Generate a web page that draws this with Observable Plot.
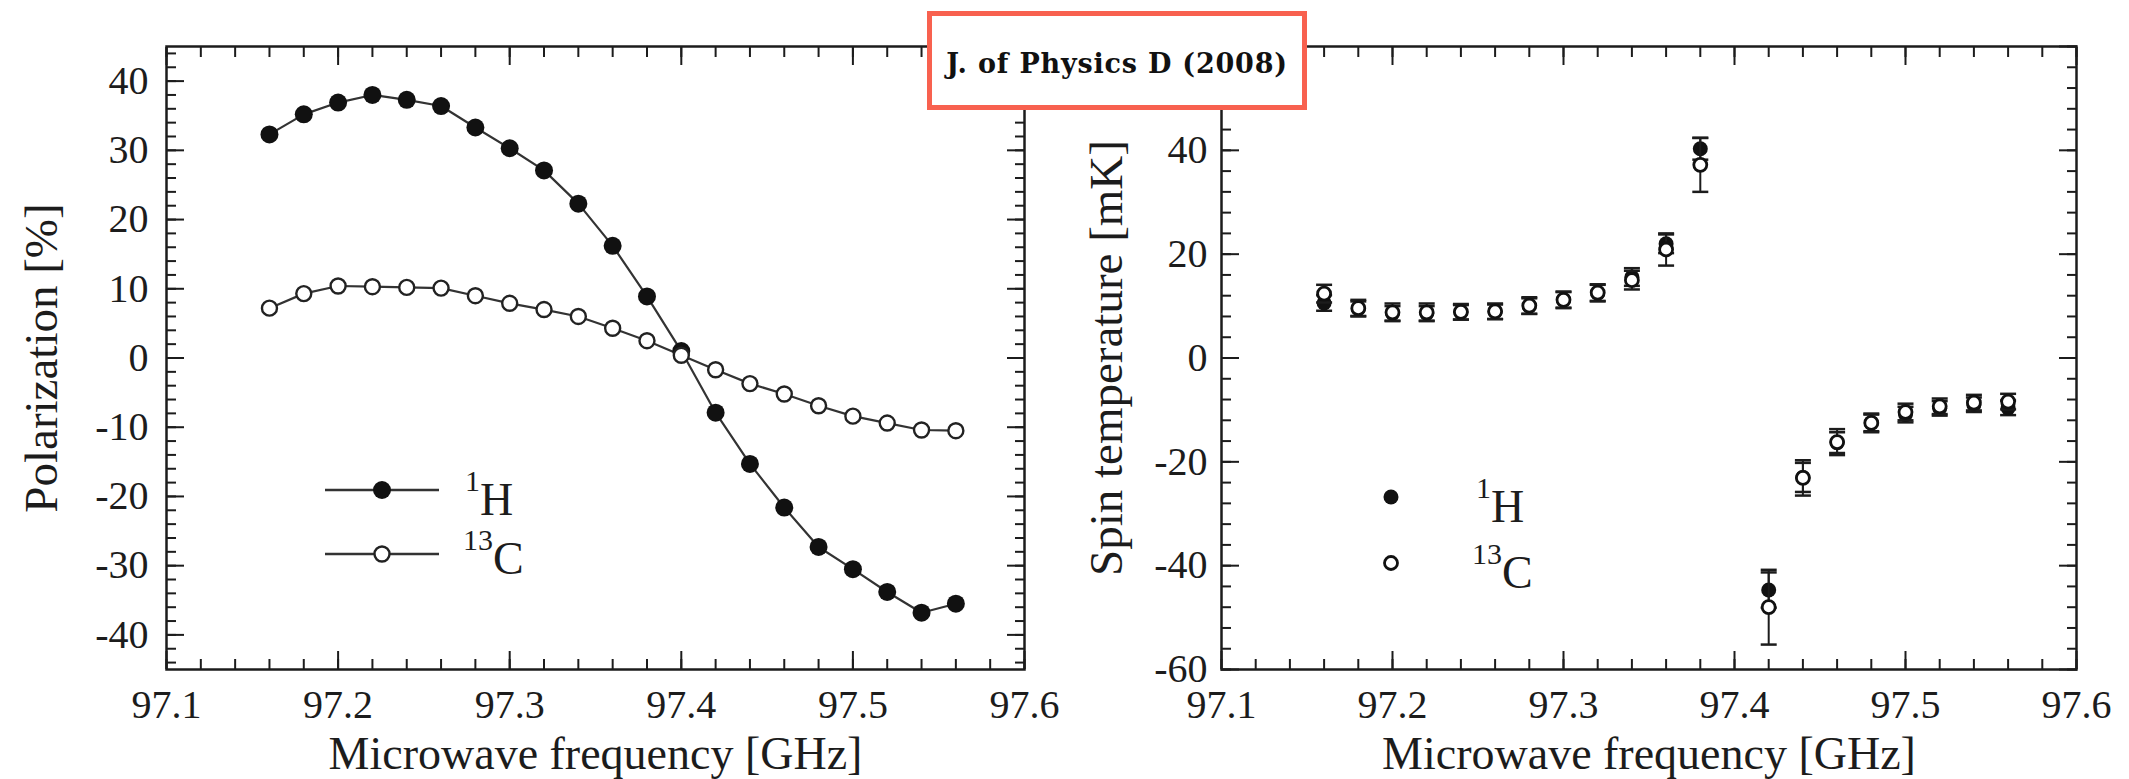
<!DOCTYPE html>
<html><head><meta charset="utf-8">
<script src="https://cdn.jsdelivr.net/npm/d3@7"></script>
<script src="https://cdn.jsdelivr.net/npm/@observablehq/plot@0.6"></script>
<style>
body{margin:0;background:#fff;}
#wrap{position:relative;width:2129px;height:779px;overflow:hidden;background:#fff;}
#left{position:absolute;left:0;top:0;}
#right{position:absolute;left:1065px;top:0;}
#title{position:absolute;left:927px;top:11px;width:380px;height:99px;box-sizing:border-box;border:5px solid #f8614f;background:#fff;font:bold 27px "DejaVu Serif";letter-spacing:0.8px;color:#111;display:flex;align-items:center;justify-content:center;padding-top:6px;z-index:5;}
</style></head>
<body>
<div id="wrap"><div id="left"></div><div id="right"></div><div id="title">J. of Physics D (2008)</div></div>
<script>
// ---------- data ----------
const freqP = [97.16, 97.18, 97.20, 97.22, 97.24, 97.26, 97.28, 97.30, 97.32, 97.34, 97.36, 97.38, 97.40, 97.42, 97.44, 97.46, 97.48, 97.50, 97.52, 97.54, 97.56];
const polH  = [32.3, 35.2, 36.9, 38.0, 37.3, 36.4, 33.3, 30.3, 27.1, 22.3, 16.2, 8.9, 1.0, -7.9, -15.3, -21.6, -27.3, -30.5, -33.8, -36.8, -35.5];
const polC  = [7.2, 9.3, 10.4, 10.3, 10.2, 10.1, 9.0, 7.9, 7.0, 6.0, 4.3, 2.5, 0.4, -1.7, -3.7, -5.2, -6.9, -8.4, -9.4, -10.4, -10.5];

const freqT = [97.16, 97.18, 97.20, 97.22, 97.24, 97.26, 97.28, 97.30, 97.32, 97.34, 97.36, 97.38, 97.42, 97.44, 97.46, 97.48, 97.50, 97.52, 97.54, 97.56];
const tempH = [10.6, 9.5, 8.6, 8.6, 8.8, 8.9, 10.0, 11.2, 12.5, 15.6, 22.0, 40.3, -44.7, -23.0, -16.3, -12.5, -10.9, -9.7, -9.0, -9.6];
const errH  = [1.5, 1.4, 1.4, 1.4, 1.4, 1.4, 1.5, 1.5, 1.6, 1.7, 1.8, 2.1, 3.4, 2.8, 2.0, 1.6, 1.5, 1.4, 1.4, 1.4];
const tempC = [12.4, 9.6, 8.8, 8.8, 8.9, 9.0, 10.1, 11.2, 12.6, 15.0, 20.9, 37.2, -48.0, -23.1, -16.2, -12.5, -10.4, -9.3, -8.6, -8.4];
const errC  = [1.7, 1.6, 1.7, 1.7, 1.5, 1.5, 1.6, 1.6, 1.6, 1.8, 3.1, 5.2, 7.2, 3.4, 2.5, 1.8, 1.6, 1.5, 1.5, 1.5];

const xMajor = [97.1, 97.2, 97.3, 97.4, 97.5, 97.6];
const xMinor = d3.range(0, 26).map(i => 97.1 + i * 0.02);
const yMajorP = [-40, -30, -20, -10, 0, 10, 20, 30, 40];
const yLabelsP = [-40, -30, -20, -10, 0, 10, 20, 30, 40];
const yMinorP = d3.range(-44, 46, 2);
const yMajorT = [-60, -40, -20, 0, 20, 40, 60];
const yLabelsT = [-60, -40, -20, 0, 20, 40];   // the 60 label is hidden under the title box
const yMinorT = d3.range(-60, 61, 4);

const xTitle = "Microwave frequency [GHz]";
const yTitleP = "Polarization [%]";
const yTitleT = "Spin temperature [mK]";

// ---------- helpers ----------
const ink = "#1c1c1c";
const fontFam = "Liberation Serif, Times New Roman, serif";
const fmtX = d3.format(".1f");
const fmtY = d => String(d);

function boxAxes(yMaj, yLab, yMin, yPad) {
  const t = {stroke: ink, strokeWidth: 2, fill: "none", label: null};
  return [
    Plot.axisX(xMinor, {anchor: "bottom", tickSize: -10, ...t}),
    Plot.axisX(xMajor, {anchor: "bottom", tickSize: -18, ...t}),
    Plot.axisX(xMinor, {anchor: "top", tickSize: -10, ...t}),
    Plot.axisX(xMajor, {anchor: "top", tickSize: -18, ...t}),
    Plot.axisY(yMin, {anchor: "left", tickSize: -10, ...t}),
    Plot.axisY(yMaj, {anchor: "left", tickSize: -18, ...t}),
    Plot.axisY(yMin, {anchor: "right", tickSize: -10, ...t}),
    Plot.axisY(yMaj, {anchor: "right", tickSize: -18, ...t}),
    Plot.axisX(xMajor, {anchor: "bottom", tickSize: 0, tickPadding: 20, tickFormat: fmtX, fill: ink, fontSize: 40, label: null}),
    Plot.axisY(yLab, {anchor: "left", tickSize: 0, tickPadding: yPad, tickFormat: fmtY, fill: ink, fontSize: 40, label: null}),
    Plot.frame({stroke: ink, strokeWidth: 2.5})
  ];
}

const capSymbol = {draw(ctx, size) { const w = Math.sqrt(size / Math.PI); ctx.moveTo(-w, 0); ctx.lineTo(w, 0); }};

// ---------- left panel ----------
const rowsP = freqP.map((f, i) => ({f, h: polH[i], c: polC[i]}));
const left = Plot.plot({
  width: 1065, height: 779,
  marginLeft: 166, marginRight: 41, marginTop: 46, marginBottom: 110,
  x: {domain: [97.1, 97.6]},
  y: {domain: [-45, 45]},
  style: {fontFamily: fontFam, background: "transparent", color: ink},
  marks: [
    ...boxAxes(yMajorP, yLabelsP, yMinorP, 18),
    Plot.line(rowsP, {x: "f", y: "h", stroke: "#333", strokeWidth: 2.2}),
    Plot.line(rowsP, {x: "f", y: "c", stroke: "#333", strokeWidth: 2.2}),
    Plot.dot(rowsP, {x: "f", y: "h", r: 9, fill: "#111", stroke: "none"}),
    Plot.dot(rowsP, {x: "f", y: "c", r: 7.5, fill: "#fff", stroke: "#222", strokeWidth: 2.4}),
    Plot.text([xTitle], {frameAnchor: "bottom", dy: 99, lineAnchor: "bottom", fontSize: 46, fill: ink}),
    Plot.text([yTitleP], {frameAnchor: "left", dx: -125, rotate: -90, textAnchor: "middle", lineAnchor: "middle", fontSize: 47, fill: ink})
  ]
});
document.getElementById("left").appendChild(left);

// ---------- right panel ----------
const rowsT = freqT.map((f, i) => ({f, h: tempH[i], eh: errH[i], c: tempC[i], ec: errC[i]}));
const right = Plot.plot({
  width: 1064, height: 779,
  marginLeft: 156, marginRight: 53, marginTop: 46, marginBottom: 110,
  x: {domain: [97.1, 97.6]},
  y: {domain: [-60, 60]},
  style: {fontFamily: fontFam, background: "transparent", color: ink},
  marks: [
    ...boxAxes(yMajorT, yLabelsT, yMinorT, 14),
    Plot.ruleX(rowsT, {x: "f", y1: d => d.h - d.eh, y2: d => d.h + d.eh, stroke: ink, strokeWidth: 2}),
    Plot.dot(rowsT, {x: "f", y: d => d.h + d.eh, symbol: capSymbol, r: 8, stroke: ink, strokeWidth: 2.5, fill: "none"}),
    Plot.dot(rowsT, {x: "f", y: d => d.h - d.eh, symbol: capSymbol, r: 8, stroke: ink, strokeWidth: 2.5, fill: "none"}),
    Plot.dot(rowsT, {x: "f", y: "h", r: 7.5, fill: "#111", stroke: "none"}),
    Plot.ruleX(rowsT, {x: "f", y1: d => d.c - d.ec, y2: d => d.c + d.ec, stroke: ink, strokeWidth: 2}),
    Plot.dot(rowsT, {x: "f", y: d => d.c + d.ec, symbol: capSymbol, r: 8, stroke: ink, strokeWidth: 2.5, fill: "none"}),
    Plot.dot(rowsT, {x: "f", y: d => d.c - d.ec, symbol: capSymbol, r: 8, stroke: ink, strokeWidth: 2.5, fill: "none"}),
    Plot.dot(rowsT, {x: "f", y: "c", r: 6.5, fill: "#fff", stroke: "#111", strokeWidth: 2.8}),
    Plot.text([xTitle], {frameAnchor: "bottom", dy: 99, lineAnchor: "bottom", fontSize: 46, fill: ink}),
    Plot.text([yTitleT], {frameAnchor: "left", dx: -115, rotate: -90, textAnchor: "middle", lineAnchor: "middle", fontSize: 47, fill: ink})
  ]
});
document.getElementById("right").appendChild(right);

// ---------- legends (overlay) ----------
const ov = d3.select("#wrap").append("svg")
  .attr("width", 2129).attr("height", 779)
  .style("position", "absolute").style("left", 0).style("top", 0)
  .style("pointer-events", "none");

function legLabel(x, y, sup, main) {
  const t = ov.append("text").attr("x", x).attr("y", y)
    .attr("font-family", fontFam).attr("font-size", 46).attr("fill", ink);
  t.append("tspan").attr("font-size", 30).attr("dy", -24).text(sup);
  t.append("tspan").attr("dy", 24).text(main);
}
// left legend
[[490, true], [554, false]].forEach(([y, filled]) => {
  ov.append("line").attr("x1", 325).attr("x2", 439).attr("y1", y).attr("y2", y).attr("stroke", "#333").attr("stroke-width", 2.4);
  ov.append("circle").attr("cx", 382).attr("cy", y).attr("r", filled ? 9 : 7.5)
    .attr("fill", filled ? "#111" : "#fff").attr("stroke", filled ? "none" : "#222").attr("stroke-width", 2.4);
});
legLabel(465, 515, "1", "H");
legLabel(463, 574, "13", "C");
// right legend
ov.append("circle").attr("cx", 1391).attr("cy", 497).attr("r", 7.5).attr("fill", "#111");
ov.append("circle").attr("cx", 1391).attr("cy", 563).attr("r", 6.5).attr("fill", "#fff").attr("stroke", "#111").attr("stroke-width", 2.8);
legLabel(1476, 522, "1", "H");
legLabel(1472, 588, "13", "C");
</script>
</body></html>
